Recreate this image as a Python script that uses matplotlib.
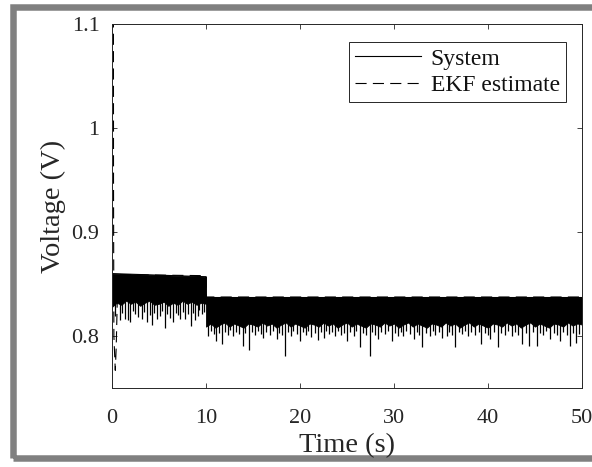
import numpy as np
import matplotlib
matplotlib.use("Agg")
import matplotlib.pyplot as plt
from matplotlib.patches import Rectangle

plt.rcParams['font.family'] = ['Liberation Serif', 'DejaVu Serif']
plt.rcParams['lines.scale_dashes'] = False

AX_COLOR = '#262626'

# band of the measured terminal voltage: upper envelope per load step
step_t = [0.0, 10.0, 10.0, 50.0]
step_top = [0.860, 0.857, 0.837, 0.837]

# lower edge of the dense part of the band, every 0.5 s
low_edge_1 = [0.828, 0.832, 0.830, 0.834, 0.831, 0.833, 0.829, 0.832, 0.834, 0.830,
              0.831, 0.833, 0.829, 0.832, 0.830, 0.834, 0.831, 0.833, 0.830, 0.832,
              0.831]
low_edge_2 = [0.809, 0.812, 0.808, 0.811, 0.813, 0.809, 0.812, 0.810, 0.808, 0.812,
              0.811, 0.809, 0.813, 0.810, 0.812, 0.808, 0.811, 0.813, 0.809, 0.812,
              0.810, 0.808, 0.812, 0.811, 0.809, 0.813, 0.810, 0.812, 0.808, 0.811,
              0.813, 0.809, 0.812, 0.810, 0.808, 0.812, 0.811, 0.809, 0.813, 0.810,
              0.812, 0.808, 0.811, 0.813, 0.809, 0.812, 0.810, 0.808, 0.812, 0.811,
              0.809, 0.813, 0.810, 0.812, 0.808, 0.811, 0.813, 0.809, 0.812, 0.810,
              0.808, 0.812, 0.811, 0.809, 0.813, 0.810, 0.812, 0.808, 0.811, 0.813,
              0.809, 0.812, 0.810, 0.808, 0.812, 0.811, 0.809, 0.813, 0.810, 0.812,
              0.811]

# downward spikes of the measurement noise
spike_t = [0.3, 0.85, 1.1, 1.38, 1.7, 1.91, 2.2, 2.45, 2.8, 3.16, 3.4, 3.69, 4.0, 4.22,
           4.5, 4.75, 5.1, 5.35, 5.64, 5.9, 6.2, 6.52, 6.8, 7.0, 7.23, 7.5, 7.77, 8.1,
           8.4, 8.6, 8.83, 9.1, 9.3, 9.54, 9.8,
           10.2, 10.5, 10.8, 11.1, 11.4, 11.67, 12.0, 12.3, 12.6, 12.9, 13.2, 13.5, 13.9,
           14.2, 14.6, 14.9, 15.2, 15.5, 15.8, 16.1, 16.4, 16.8, 17.1, 17.5, 17.8, 18.1,
           18.4, 18.7, 19.0, 19.3, 19.7, 20.0, 20.3, 20.6, 20.9, 21.2, 21.6, 21.9, 22.2,
           22.5, 22.8, 23.1, 23.4, 23.7, 24.0, 24.4, 24.7, 25.0, 25.3, 25.7, 26.0, 26.4,
           26.7, 27.0, 27.4, 27.7, 28.0, 28.3, 28.6, 29.0, 29.4, 29.8, 30.1, 30.4, 30.7,
           31.0, 31.3, 31.7, 32.1, 32.4, 32.7, 33.0, 33.4, 33.8, 34.1, 34.4, 34.8, 35.1,
           35.6, 35.9, 36.2, 36.5, 36.9, 37.2, 37.5, 37.9, 38.2, 38.6, 39.0, 39.3, 39.7,
           40.0, 40.2, 40.6, 41.1, 41.4, 41.8, 42.1, 42.5, 42.9, 43.2, 43.6, 44.0, 44.4,
           44.8, 45.2, 45.5, 45.9, 46.2, 46.6, 47.0, 47.3, 47.7, 48.0, 48.4, 48.7, 49.0,
           49.4, 49.7]
spike_v = [0.819, 0.815, 0.822, 0.816, 0.815, 0.813, 0.824, 0.821, 0.818, 0.816, 0.823,
           0.813, 0.820, 0.811, 0.822, 0.816, 0.819, 0.824, 0.808, 0.821, 0.817, 0.813,
           0.822, 0.820, 0.816, 0.823, 0.816, 0.821, 0.810, 0.822, 0.815, 0.819, 0.825,
           0.821, 0.823,
           0.800, 0.805, 0.802, 0.795, 0.803, 0.792, 0.804, 0.801, 0.806, 0.800, 0.804,
           0.802, 0.790, 0.803, 0.787, 0.804, 0.801, 0.805, 0.802, 0.798, 0.804, 0.801,
           0.805, 0.797, 0.803, 0.801, 0.781, 0.804, 0.800, 0.805, 0.802, 0.795, 0.804,
           0.801, 0.805, 0.799, 0.803, 0.796, 0.804, 0.798, 0.805, 0.802, 0.804, 0.800,
           0.805, 0.801, 0.803, 0.795, 0.804, 0.800, 0.805, 0.789, 0.803, 0.801, 0.781,
           0.804, 0.801, 0.797, 0.804, 0.802, 0.805, 0.795, 0.803, 0.800, 0.804, 0.800,
           0.805, 0.802, 0.797, 0.804, 0.801, 0.789, 0.803, 0.800, 0.805, 0.801, 0.804,
           0.798, 0.800, 0.804, 0.801, 0.789, 0.804, 0.802, 0.805, 0.800, 0.804, 0.801,
           0.804, 0.792, 0.803, 0.801, 0.797, 0.804, 0.789, 0.803, 0.801, 0.805, 0.800,
           0.804, 0.801, 0.792, 0.803, 0.790, 0.804, 0.790, 0.803, 0.801, 0.805, 0.797,
           0.803, 0.801, 0.795, 0.804, 0.801, 0.790, 0.803, 0.793, 0.802]

# EKF voltage estimate
ekf_t = [0.15, 0.16, 0.2, 0.35, 0.45, 0.55, 0.7, 10.0, 10.02, 50.0]
ekf_v = [1.15, 0.95, 0.80, 0.767, 0.79, 0.83, 0.859, 0.858, 0.8375, 0.8375]

fig = plt.figure(figsize=(5.92, 4.67), dpi=100)

# grey window frame around the figure (behind everything else)
W, H = 592.0, 467.0
fig.patches.append(Rectangle((13 / W, 1 - 457.5 / H), 700 / W, 451 / H,
                             transform=fig.transFigure, facecolor='none',
                             edgecolor='#808080', linewidth=6.5 * 0.72, zorder=-5))

ax = fig.add_axes([112 / W, 1 - 388 / H, 470 / W, 364 / H])

t1 = np.linspace(0, 10, len(low_edge_1))
t2 = np.linspace(10, 50, len(low_edge_2))
top1 = np.interp(t1, step_t[:2], step_top[:2])
top2 = np.full_like(t2, step_top[2])
ax.fill_between(t1, low_edge_1, top1, color='black', linewidth=0.6)
ax.fill_between(t2, low_edge_2, top2, color='black', linewidth=0.6)
ax.plot(step_t, step_top, color='black', lw=0.8, label='System')
ax.vlines(spike_t, spike_v, 0.834, color='black', lw=0.9)

ax.plot(ekf_t, ekf_v, color='black', lw=0.8, linestyle=(0, (8, 4.5)),
        label='EKF estimate')

ax.set_xlim(0, 50)
ax.set_ylim(0.75, 1.1)
ax.set_xticks([0, 10, 20, 30, 40, 50])
ax.set_yticks([0.8, 0.9, 1.0, 1.1])
ax.set_yticklabels(['0.8', '0.9', '1', '1.1'])
ax.tick_params(direction='in', length=3.6, width=0.6, top=True, right=True,
               labelsize=16, colors=AX_COLOR)
ax.tick_params(axis='x', pad=15)
ax.tick_params(axis='y', pad=9)
for s in ax.spines.values():
    s.set_color(AX_COLOR)
    s.set_linewidth(0.7)

ax.set_xlabel('Time (s)', fontsize=20.5, color=AX_COLOR, labelpad=4)
ax.set_ylabel('Voltage (V)', fontsize=20.5, color=AX_COLOR, labelpad=4)

leg = ax.legend(loc='upper right', bbox_to_anchor=(0.966, 0.9505), borderaxespad=0,
                fontsize=17, handlelength=2.8, handletextpad=0.42, labelspacing=0.2,
                borderpad=0.26, fancybox=False, framealpha=1, edgecolor=AX_COLOR)
leg.get_frame().set_linewidth(0.7)
for txt in leg.get_texts():
    txt.set_color('#111111')

fig.savefig('out.png', dpi=100)
